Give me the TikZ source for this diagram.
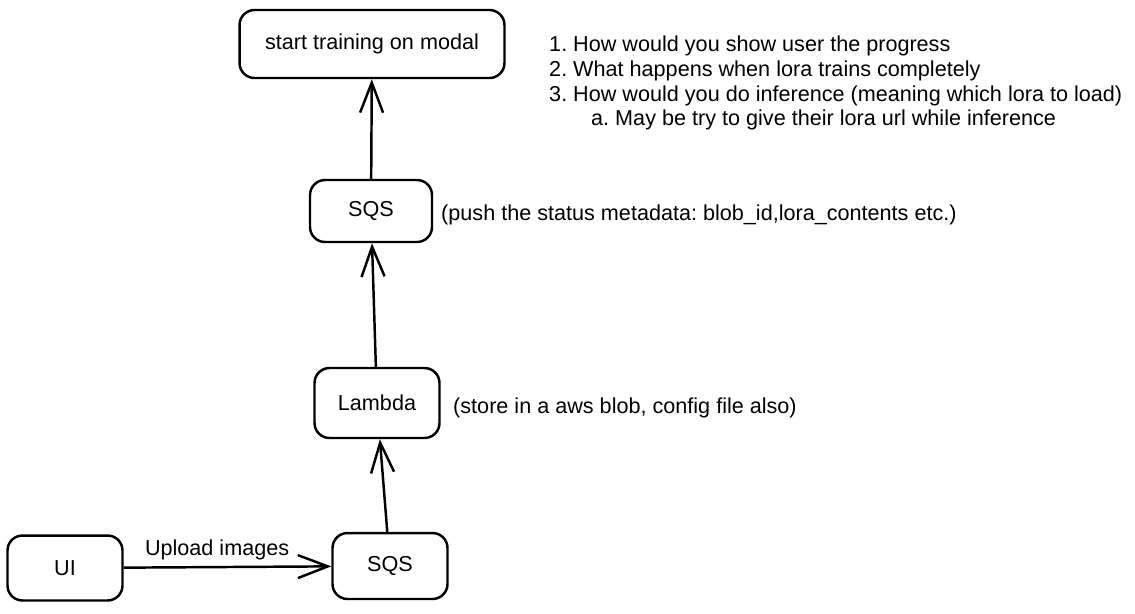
\documentclass[tikz,border=0pt]{standalone}
\usepackage{fontspec}
\setmainfont{Liberation Sans}
\usetikzlibrary{arrows.meta}
\frenchspacing
\tikzset{
  ->,
  >={Straight Barb[length=0.6cm,width=0.46cm]},
  x=0.02cm, y=-0.02cm,
  every node/.style={font=\fontsize{12.3}{14}\selectfont},
  box/.style={draw, rounded corners=0.3cm},
  note/.style={anchor=west, inner sep=0pt},
}

\begin{document}
\begin{tikzpicture}[line width=1.4pt]
		\useasboundingbox (0,0) rectangle (1135,613);

		% boxes
		\node[box, minimum width=5.3cm, minimum height=1.36cm] (modal) at (372,44) {start training on modal};
		\node[box, minimum width=2.44cm, minimum height=1.24cm] (status) at (371,211) {SQS};
		\node[box, minimum width=2.5cm, minimum height=1.4cm] (lambda) at (377,403) {Lambda};
		\node[box, minimum width=2.3cm, minimum height=1.32cm] (queue) at (390,566) {SQS};
		\node[box, minimum width=2.3cm, minimum height=1.3cm] (ui) at (65,568) {UI};

		% notes
		\node[note, anchor=north west, align=left] (questions) at (548,35) {1. How would you show user the progress\\2. What happens when lora trains completely\\3. How would you do inference (meaning which lora to load)\\\hspace*{0.84cm}a. May be try to give their lora url while inference};
		\node[note] (pushnote) at (440,215) {(push the status metadata: blob\_id,lora\_contents etc.)};
		\node[note] (storenote) at (452,408) {(store in a aws blob, config file also)};

		% arrows
		\draw (ui) -- node[above, pos=0.45] {Upload images} (queue);
		\draw (queue) -- (lambda);
		\draw (lambda) -- (status);
		\draw (status) -- (modal);

	\end{tikzpicture}
\end{document}
